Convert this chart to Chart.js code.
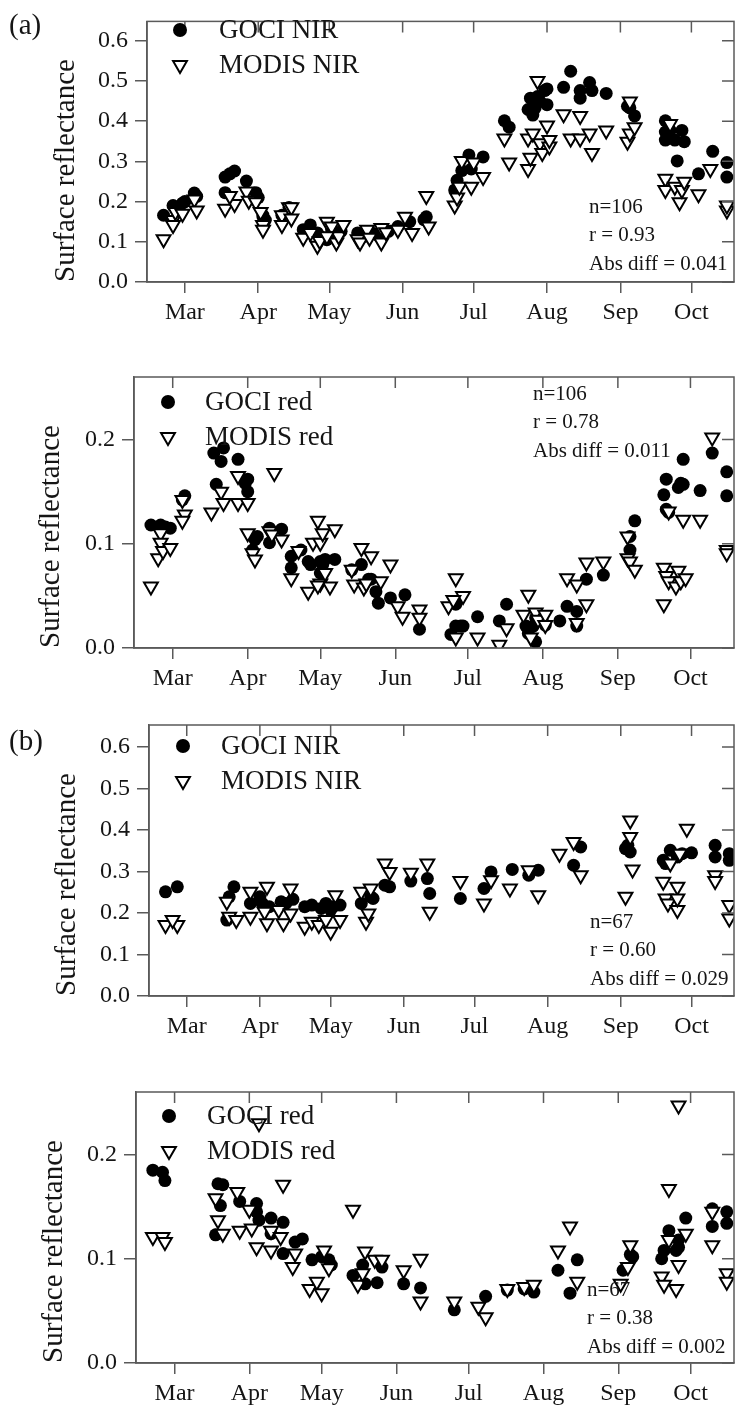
<!DOCTYPE html>
<html>
<head>
<meta charset="utf-8">
<title>GOCI vs MODIS surface reflectance</title>
<script src="https://cdn.jsdelivr.net/npm/chart.js@4.4.0/dist/chart.umd.min.js"></script>
<style>
  html, body { margin: 0; padding: 0; background: #fff; }
  #page { position: relative; width: 754px; height: 1409px; overflow: hidden; }
  canvas { position: absolute; left: 0; }
</style>
</head>
<body>
<div id="page">
  <canvas id="p1" width="754" height="340" style="top:0px"></canvas>
  <canvas id="p2" width="754" height="355" style="top:345px"></canvas>
  <canvas id="p3" width="754" height="340" style="top:700px"></canvas>
  <canvas id="p4" width="754" height="359" style="top:1050px"></canvas>
</div>
<script>
// x axis is day of year, ticks at the first day of each month
const monthDays = [60, 91, 121, 152, 182, 213, 244, 274];
const monthLabels = ['Mar', 'Apr', 'May', 'Jun', 'Jul', 'Aug', 'Sep', 'Oct'];
const nirTicks = [0, 0.1, 0.2, 0.3, 0.4, 0.5, 0.6];
const redTicks = [0, 0.1, 0.2];

// (a) NIR
const p1GociDay = [51,55,59,60,64,65, 77,79,81,77,86,90,91,93,94,93,101,104, 110,113,116,117,122,124,126,120, 133,136,139,142,144,146,150,155,162,161, 174,175,177,180,181,186, 195,197,205,206,208,209,210,212,213,213,207, 220,223,227,227,231,232,238,247,248,250, 263,263,263,265,267,268,270,271,277,283,289,289];
const p1GociVal = [0.166,0.190,0.196,0.200,0.221,0.213, 0.261,0.269,0.276,0.222,0.251,0.222,0.210,0.162,0.154,0.166,0.166,0.185, 0.130,0.142,0.122,0.114,0.130,0.118,0.126,0.105, 0.122,0.114,0.122,0.114,0.122,0.126,0.138,0.150,0.162,0.155, 0.229,0.253,0.277,0.316,0.281,0.311, 0.401,0.385,0.429,0.457,0.433,0.461,0.449,0.476,0.441,0.480,0.415, 0.484,0.524,0.476,0.457,0.496,0.476,0.469,0.437,0.433,0.413, 0.401,0.373,0.353,0.377,0.353,0.301,0.377,0.349,0.269,0.325,0.297,0.261];
const p1ModisDay = [51,55,55,56,59,64,65, 77,81,79,86,87,90,92,93,93,101,101,104,105,105, 110,113,116,117,120,122,124,125,127,120, 133,134,137,138,143,143,145,150,153,156,162,163, 174,175,176,177,182,181,186, 195,197,205,206,205,207,209,210,211,213,214,214, 220,223,227,227,231,232,238,247,248,248,250, 263,263,265,267,269,270,271,277,282,289,289];
const p1ModisVal = [0.106,0.154,0.142,0.174,0.170,0.205,0.178, 0.182,0.194,0.214,0.225,0.202,0.198,0.174,0.142,0.130,0.166,0.142,0.186,0.186,0.158, 0.110,0.122,0.090,0.102,0.150,0.138,0.098,0.114,0.142,0.114, 0.106,0.098,0.130,0.110,0.134,0.098,0.124,0.130,0.162,0.122,0.214,0.138, 0.190,0.210,0.237,0.301,0.297,0.237,0.261, 0.357,0.297,0.281,0.309,0.357,0.369,0.500,0.345,0.321,0.389,0.337,0.353, 0.417,0.357,0.413,0.357,0.369,0.321,0.377,0.349,0.369,0.449,0.385, 0.257,0.229,0.393,0.237,0.198,0.229,0.249,0.218,0.281,0.178,0.190];

// (a) red
const p2GociDay = [51,55,59,57,64,65, 77,80,81,78,87,91,91,90,94,95,93,100,105,100, 109,109,113,116,117,121,122,123,127,121, 134,138,141,142,144,145,150,156,162, 175,177,179,180,177,186, 195,198,206,207,209,210,210,214,220,223,227,227,231,238, 249,249,251, 263,264,264,265,269,270,271,271,278,283,289,289];
const p2GociVal = [0.118,0.118,0.115,0.116,0.142,0.146, 0.187,0.179,0.192,0.157,0.181,0.162,0.150,0.158,0.104,0.107,0.094,0.115,0.114,0.101, 0.088,0.077,0.094,0.083,0.080,0.083,0.080,0.085,0.085,0.072, 0.075,0.080,0.066,0.066,0.054,0.043,0.048,0.051,0.018, 0.013,0.021,0.021,0.021,0.042,0.030, 0.026,0.042,0.021,0.014,0.021,0.006,0.029,0.022,0.026,0.040,0.035,0.021,0.066,0.070, 0.107,0.094,0.122, 0.147,0.162,0.133,0.130,0.154,0.158,0.181,0.157,0.151,0.187,0.169,0.146];
const p2ModisDay = [51,54,55,55,56,59,64,65,64, 76,80,81,87,87,91,91,93,94,100,102,105,101, 109,112,116,118,120,121,121,122,123,125,127,120, 134,135,138,139,140,142,146,150,153,155,162,162, 174,177,180,176,177,186, 195,198,205,207,208,210,211,214,214,223,227,227,231,231,238, 248,248,249,251, 263,263,264,265,265,268,269,270,271,272,278,283,289,289];
const p2ModisVal = [0.059,0.086,0.110,0.101,0.093,0.096,0.142,0.128,0.122, 0.130,0.150,0.139,0.165,0.139,0.139,0.110,0.091,0.085,0.112,0.168,0.104,0.109, 0.067,0.093,0.054,0.101,0.122,0.101,0.062,0.110,0.072,0.059,0.114,0.060, 0.075,0.061,0.096,0.058,0.062,0.088,0.064,0.080,0.040,0.030,0.037,0.029, 0.040,0.067,0.050,0.046,0.010,0.010, 0.003,0.019,0.032,0.051,0.010,0.034,0.027,0.032,0.022,0.067,0.061,0.024,0.042,0.082,0.083, 0.107,0.086,0.083,0.075, 0.042,0.077,0.069,0.064,0.131,0.059,0.074,0.064,0.123,0.067,0.123,0.202,0.094,0.091];

// (b) NIR
const p3GociDay = [51,56, 77,78,80,87,91,92,95,100,105,102, 110,113,117,119,121,122,125, 134,138,139,144,146,155,162,163, 176,186,189, 198,205,209,224,227, 246,248,247, 262,263,265,268,270,274,284,284,290,290];
const p3GociVal = [0.251,0.263, 0.183,0.239,0.263,0.223,0.239,0.223,0.215,0.227,0.233,0.223, 0.215,0.219,0.211,0.223,0.207,0.215,0.219, 0.223,0.239,0.235,0.267,0.263,0.277,0.283,0.247, 0.235,0.259,0.299, 0.305,0.291,0.303,0.315,0.359, 0.355,0.347,0.363, 0.327,0.319,0.351,0.335,0.343,0.345,0.363,0.335,0.343,0.327];
const p3ModisDay = [51,56,54, 77,78,81,87,87,93,94,94,99,101,104,104, 110,113,116,119,121,123,125, 134,136,137,138,144,146,155,162,163, 176,186,189, 197,205,209,218,224,227, 246,248,248,249, 262,263,264,265,268,268,268,269,272,284,284,290,290];
const p3ModisVal = [0.171,0.171,0.183, 0.227,0.191,0.183,0.251,0.191,0.203,0.263,0.175,0.207,0.175,0.259,0.199, 0.167,0.179,0.171,0.183,0.155,0.243,0.183, 0.251,0.179,0.199,0.259,0.319,0.299,0.297,0.319,0.203, 0.277,0.223,0.279, 0.259,0.303,0.243,0.343,0.371,0.291, 0.239,0.423,0.383,0.305, 0.275,0.235,0.223,0.319,0.263,0.207,0.235,0.343,0.403,0.291,0.277,0.219,0.187];

// (b) red
const p4GociDay = [51,55,56, 78,80,79,77,87,94,94,95,100,100,105,105, 110,113,117,121,124,125, 134,138,139,144,146,155,162, 176,189,198, 205,209,219,224,227, 246,249,250, 262,263,265,268,269,269,272,283,283,289,289];
const p4GociVal = [0.185,0.183,0.175, 0.172,0.171,0.151,0.123,0.155,0.153,0.145,0.137,0.139,0.124,0.135,0.105, 0.116,0.119,0.099,0.102,0.099,0.094, 0.084,0.094,0.076,0.077,0.092,0.076,0.072, 0.051,0.064,0.070, 0.071,0.068,0.089,0.067,0.099, 0.089,0.104,0.102, 0.100,0.108,0.127,0.108,0.118,0.111,0.139,0.131,0.148,0.145,0.134];
const p4ModisDay = [51,55,56, 77,78,80,86,87,91,92,94,95,100,100,104,105, 109,110,116,119,121,122,124, 134,136,138,139,143,146,155,162,162, 176,186,189, 198,205,209,219,224,227, 245,248,249, 262,263,265,265,268,269,269,272,283,283,289,289];
const p4ModisVal = [0.121,0.121,0.116, 0.158,0.137,0.124,0.164,0.127,0.147,0.129,0.111,0.230,0.127,0.108,0.121,0.171, 0.092,0.105,0.071,0.078,0.067,0.108,0.091, 0.147,0.075,0.086,0.107,0.099,0.099,0.089,0.100,0.059, 0.059,0.054,0.044, 0.071,0.073,0.075,0.108,0.131,0.078, 0.076,0.092,0.113, 0.083,0.075,0.167,0.118,0.071,0.247,0.094,0.124,0.145,0.113,0.086,0.078];

const serif = '"Liberation Serif", "Times New Roman", serif';
const frameColor = '#5a5a5a';
const textColor = '#151515';

function toPoints(days, vals) {
    return days.map((d, i) => ({ x: d, y: vals[i] }));
}

// draws the box, the inner mirror ticks, legend and statistics text
const panelDecor = {
    id: 'panelDecor',
    afterDraw(chart) {
        const o = chart.options.plugins.panelDecor;
        const { ctx, chartArea: a, scales } = chart;
        ctx.save();
        ctx.strokeStyle = frameColor;
        ctx.lineWidth = 1.5;
        ctx.strokeRect(a.left, a.top, a.right - a.left, a.bottom - a.top);
        ctx.beginPath();
        monthDays.forEach(d => {
            const x = scales.x.getPixelForValue(d);
            ctx.moveTo(x, a.top);
            ctx.lineTo(x, a.top + 11);
        });
        o.yTicks.forEach(v => {
            const y = scales.y.getPixelForValue(v);
            ctx.moveTo(a.right, y);
            ctx.lineTo(a.right - 12, y);
        });
        ctx.stroke();

        ctx.fillStyle = textColor;
        ctx.textBaseline = 'middle';
        ctx.textAlign = 'left';
        if (o.letter) {
            ctx.font = '29px ' + serif;
            ctx.fillText(o.letter, 9, o.letterY);
        }
        // legend
        const lx = o.legend[0], ly = o.legend[1], gap = 35;
        ctx.fillStyle = '#000';
        ctx.beginPath();
        ctx.arc(lx, ly, 7, 0, Math.PI * 2);
        ctx.fill();
        const r = 8, ty = ly + gap;
        ctx.beginPath();
        ctx.moveTo(lx, ty + r);
        ctx.lineTo(lx - r * 0.866, ty - r / 2);
        ctx.lineTo(lx + r * 0.866, ty - r / 2);
        ctx.closePath();
        ctx.lineWidth = 2;
        ctx.strokeStyle = '#000';
        ctx.stroke();
        ctx.fillStyle = textColor;
        ctx.font = '27px ' + serif;
        ctx.fillText(o.names[0], o.legend[2], ly + 1);
        ctx.fillText(o.names[1], o.legend[2], ty + 1);
        // statistics
        ctx.font = '21px ' + serif;
        o.stats.forEach((s, i) => ctx.fillText(s, o.statsPos[0], o.statsPos[1] + i * 28.5));
        ctx.restore();
    }
};

function makePanel(id, p) {
    const ctx = document.getElementById(id).getContext('2d');
    new Chart(ctx, {
        type: 'scatter',
        data: {
            datasets: [{
                label: p.names[0],
                data: toPoints(p.gociDay, p.gociVal),
                pointStyle: 'circle',
                pointRadius: 6.5,
                backgroundColor: '#000',
                borderColor: '#000',
                borderWidth: 0,
                order: 1
            }, {
                label: p.names[1],
                data: toPoints(p.modisDay, p.modisVal),
                pointStyle: 'triangle',
                rotation: 180,
                pointRadius: 8,
                backgroundColor: '#fff',
                borderColor: '#000',
                borderWidth: 2,
                order: 0
            }]
        },
        options: {
            responsive: false,
            animation: false,
            events: [],
            layout: { padding: { top: p.padTop, right: 20, left: 0, bottom: 0 } },
            plugins: {
                legend: { display: false },
                tooltip: { enabled: false },
                panelDecor: {
                    yTicks: p.yTicks, letter: p.letter, letterY: p.letterY,
                    legend: p.legend, names: p.names, stats: p.stats, statsPos: p.statsPos
                }
            },
            scales: {
                x: {
                    type: 'linear',
                    min: 44,
                    max: 292,
                    afterBuildTicks: s => { s.ticks = monthDays.map(v => ({ value: v })); },
                    afterFit: s => { s.height = p.xHeight; },
                    grid: { drawOnChartArea: false, drawTicks: true, tickLength: 11, color: frameColor, lineWidth: 1.5 },
                    border: { display: true, color: frameColor, width: 1.5 },
                    ticks: {
                        autoSkip: false,
                        maxRotation: 0,
                        padding: 5,
                        color: textColor,
                        font: { family: serif, size: 24 },
                        callback: v => monthLabels[monthDays.indexOf(v)]
                    }
                },
                y: {
                    type: 'linear',
                    min: 0,
                    max: p.yMax,
                    afterBuildTicks: s => { s.ticks = p.yTicks.map(v => ({ value: v })); },
                    afterFit: s => { s.width = p.yWidth; },
                    grid: { drawOnChartArea: false, drawTicks: true, tickLength: 12, color: frameColor, lineWidth: 1.5 },
                    border: { display: true, color: frameColor, width: 1.5 },
                    ticks: {
                        padding: 7,
                        color: textColor,
                        font: { family: serif, size: 24 },
                        callback: v => v.toFixed(1)
                    },
                    title: {
                        display: true,
                        text: 'Surface reflectance',
                        align: 'start',
                        color: textColor,
                        font: { family: serif, size: 29 },
                        padding: { top: p.titlePad, bottom: 0 }
                    }
                }
            }
        },
        plugins: [panelDecor]
    });
}

document.addEventListener('DOMContentLoaded', () => {
    makePanel('p1', {
        gociDay: p1GociDay, gociVal: p1GociVal, modisDay: p1ModisDay, modisVal: p1ModisVal,
        names: ['GOCI NIR', 'MODIS NIR'], yTicks: nirTicks, yMax: 0.648,
        padTop: 10, xHeight: 58, yWidth: 147, titlePad: 49,
        letter: '(a)', letterY: 26, legend: [180, 30, 219],
        stats: ['n=106', 'r = 0.93', 'Abs diff = 0.041'], statsPos: [589, 207]
    });
    makePanel('p2', {
        gociDay: p2GociDay, gociVal: p2GociVal, modisDay: p2ModisDay, modisVal: p2ModisVal,
        names: ['GOCI red', 'MODIS red'], yTicks: redTicks, yMax: 0.26,
        padTop: 32, xHeight: 52, yWidth: 134, titlePad: 34,
        letter: null, legend: [168, 57, 205],
        stats: ['n=106', 'r = 0.78', 'Abs diff = 0.011'], statsPos: [533, 49]
    });
    makePanel('p3', {
        gociDay: p3GociDay, gociVal: p3GociVal, modisDay: p3ModisDay, modisVal: p3ModisVal,
        names: ['GOCI NIR', 'MODIS NIR'], yTicks: nirTicks, yMax: 0.653,
        padTop: 25, xHeight: 44, yWidth: 149, titlePad: 50,
        letter: '(b)', letterY: 42, legend: [183, 46, 221],
        stats: ['n=67', 'r = 0.60', 'Abs diff = 0.029'], statsPos: [590, 222]
    });
    makePanel('p4', {
        gociDay: p4GociDay, gociVal: p4GociVal, modisDay: p4ModisDay, modisVal: p4ModisVal,
        names: ['GOCI red', 'MODIS red'], yTicks: redTicks, yMax: 0.26,
        padTop: 42, xHeight: 46, yWidth: 136, titlePad: 37,
        letter: null, legend: [169, 66, 207],
        stats: ['n=67', 'r = 0.38', 'Abs diff = 0.002'], statsPos: [587, 240]
    });
});
</script>
</body>
</html>
